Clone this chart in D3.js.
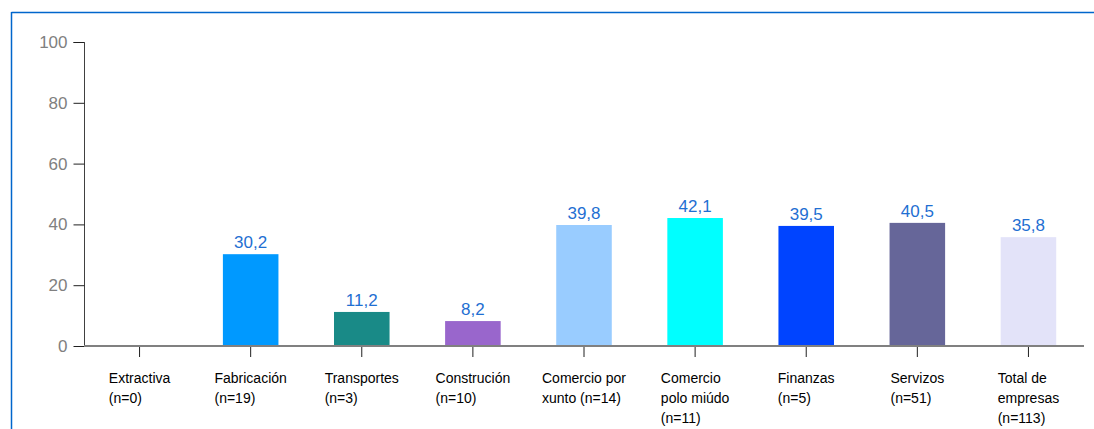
<!DOCTYPE html>
<html>
<head>
<meta charset="utf-8">
<script src="https://cdn.jsdelivr.net/npm/d3@7"></script>
<style>
  html, body { margin: 0; padding: 0; background: #fff; }
  svg { display: block; font-family: "Liberation Sans", Arial, sans-serif; }
</style>
</head>
<body>
<svg id="chart" width="1094" height="429"></svg>
<script>
const categories = [
  ["Extractiva", "(n=0)"],
  ["Fabricación", "(n=19)"],
  ["Transportes", "(n=3)"],
  ["Construción", "(n=10)"],
  ["Comercio por", "xunto (n=14)"],
  ["Comercio", "polo miúdo", "(n=11)"],
  ["Finanzas", "(n=5)"],
  ["Servizos", "(n=51)"],
  ["Total de", "empresas", "(n=113)"]
];
const values = [null, 30.2, 11.2, 8.2, 39.8, 42.1, 39.5, 40.5, 35.8];
const colors = ["#cccccc", "#0099ff", "#198a87", "#9966cc", "#99ccff", "#00ffff", "#0044ff", "#666699", "#e3e3f9"];
const yTicks = [0, 20, 40, 60, 80, 100];

const svg = d3.select("#chart");

// frame lines (blue)
svg.append("line").attr("x1", 11.5).attr("x2", 1094).attr("y1", 12.5).attr("y2", 12.5)
  .attr("stroke", "#0066cc").attr("stroke-width", 1.5);
svg.append("line").attr("x1", 11.5).attr("x2", 11.5).attr("y1", 12).attr("y2", 429)
  .attr("stroke", "#0066cc").attr("stroke-width", 1.5);

const x = d3.scaleBand().domain(d3.range(categories.length)).range([84, 1084]).paddingInner(0.5).paddingOuter(0.25);
const y = d3.scaleLinear().domain([0, 100]).range([346, 42]);

// y axis
const yAxis = svg.append("g").attr("transform", "translate(84.5,0)")
  .call(d3.axisLeft(y).tickValues(yTicks).tickSize(11).tickPadding(6).tickFormat(d3.format("d")));
yAxis.select(".domain").attr("stroke", "#404040").attr("d", `M-11,${y(100)+0.5}H0V${y(0)}`);
yAxis.selectAll(".tick line").attr("stroke", "#202020");
yAxis.selectAll(".tick text").attr("fill", "#808080").attr("font-size", 17)
  .attr("font-family", "Liberation Sans, Arial, sans-serif");

// bars
svg.append("g").selectAll("rect").data(values.map((v, i) => ({v, i})).filter(d => d.v != null))
  .join("rect")
  .attr("x", d => x(d.i)).attr("width", x.bandwidth())
  .attr("y", d => y(d.v)).attr("height", d => y(0) - y(d.v))
  .attr("fill", d => colors[d.i]);

// value labels
svg.append("g").selectAll("text").data(values.map((v, i) => ({v, i})).filter(d => d.v != null))
  .join("text")
  .attr("x", d => x(d.i) + x.bandwidth() / 2)
  .attr("y", d => y(d.v) - 6)
  .attr("text-anchor", "middle")
  .attr("font-size", 17)
  .attr("fill", "#1f6fd2")
  .text(d => d3.format(".1f")(d.v).replace(".", ","));

// x axis
const xAxis = svg.append("g").attr("transform", `translate(0,${y(0)})`)
  .call(d3.axisBottom(x).tickSize(11).tickFormat(""));
xAxis.select(".domain").attr("stroke", "#808080").attr("stroke-width", 2).attr("d", "M84,0H1084");
xAxis.selectAll(".tick line").attr("stroke", "#202020").attr("y1", 1);

// category labels (multi-line, block centered, lines left aligned)
const labels = svg.append("g").selectAll("text").data(categories).join("text")
  .attr("font-size", 14).attr("fill", "#000");
labels.each(function(lines, i) {
  const t = d3.select(this);
  lines.forEach((ln, k) => {
    t.append("tspan").attr("x", 0).attr("y", 383 + k * 20).text(ln);
  });
  let maxW = 0;
  t.selectAll("tspan").each(function() { maxW = Math.max(maxW, this.getComputedTextLength()); });
  const cx = x(i) + x.bandwidth() / 2;
  t.selectAll("tspan").attr("x", cx - maxW / 2);
});
</script>
</body>
</html>
